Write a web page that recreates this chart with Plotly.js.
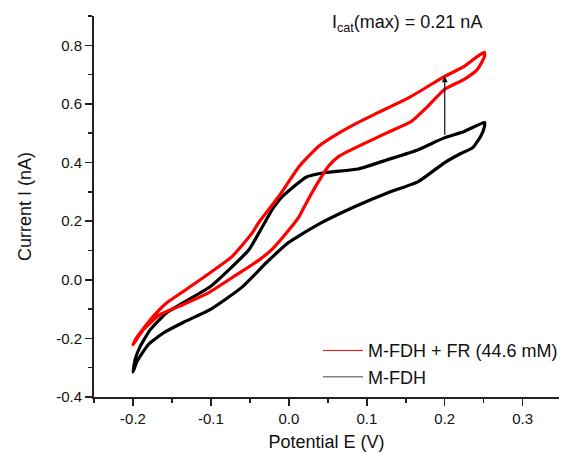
<!DOCTYPE html>
<html>
<head>
<meta charset="utf-8">
<script src="https://cdn.plot.ly/plotly-3.0.1.min.js"></script>
<style>html,body{margin:0;padding:0;background:#fff}#chart{width:563px;height:452px}</style>
</head>
<body>
<div id="chart"></div>
<script>
// M-FDH (black) cyclic voltammogram: forward (upper) then reverse (lower)
const blackE = [-0.200,-0.197,-0.191,-0.178,-0.157,-0.136,-0.101,-0.073,-0.051,-0.034,-0.020,-0.008,0.005,0.022,0.047,0.089,0.127,0.166,0.200,0.225,0.251,
                0.251,0.246,0.236,0.220,0.200,0.166,0.127,0.085,0.042,0.013,0.000,-0.029,-0.060,-0.100,-0.135,-0.160,-0.180,-0.195,-0.200];
const blackI = [-0.315,-0.270,-0.229,-0.171,-0.113,-0.079,-0.024,0.044,0.103,0.181,0.245,0.285,0.315,0.350,0.366,0.378,0.410,0.444,0.485,0.506,0.537,
                0.523,0.489,0.451,0.430,0.400,0.335,0.297,0.250,0.195,0.150,0.128,0.058,-0.025,-0.100,-0.145,-0.180,-0.220,-0.280,-0.315];
// M-FDH + FR 44.6 mM (red)
const redE = [-0.200,-0.196,-0.178,-0.157,-0.136,-0.101,-0.073,-0.047,-0.038,-0.013,0.013,0.038,0.064,0.089,0.115,0.157,0.200,0.225,0.242,0.251,
              0.251,0.242,0.225,0.200,0.178,0.157,0.127,0.089,0.064,0.050,0.038,0.025,0.013,0.000,-0.022,-0.038,-0.073,-0.101,-0.136,-0.166,-0.187,-0.200];
const redI = [-0.222,-0.200,-0.137,-0.079,-0.041,0.024,0.079,0.160,0.198,0.284,0.386,0.455,0.500,0.537,0.571,0.626,0.694,0.728,0.762,0.776,
              0.762,0.718,0.684,0.650,0.591,0.540,0.503,0.455,0.421,0.385,0.335,0.275,0.215,0.170,0.103,0.068,0.007,-0.041,-0.085,-0.120,-0.171,-0.222];
const seriesNames = ["M-FDH + FR (44.6 mM)", "M-FDH"];
const xTickVals = [-0.2, -0.1, 0.0, 0.1, 0.2, 0.3];
const xTickText = ["-0.2", "-0.1", "0.0", "0.1", "0.2", "0.3"];
const yTickVals = [-0.4, -0.2, 0.0, 0.2, 0.4, 0.6, 0.8];
const yTickText = ["-0.4", "-0.2", "0.0", "0.2", "0.4", "0.6", "0.8"];
const arrowE = 0.2, arrowFrom = 0.49, arrowTo = 0.694;
const noteText = "I<sub>cat</sub>(max) = 0.21 nA";

const font = "Liberation Sans, Arial, sans-serif";
const traces = [
  {x: blackE, y: blackI, mode: "lines", line: {color: "#000000", width: 3.2, shape: "spline", smoothing: 0.5}, showlegend: false, hoverinfo: "skip"},
  {x: redE, y: redI, mode: "lines", line: {color: "#ff0000", width: 3.2, shape: "spline", smoothing: 0.5}, showlegend: false, hoverinfo: "skip"},
  {x: [null], y: [null], mode: "lines", name: seriesNames[0], line: {color: "#ff0000", width: 1}},
  {x: [null], y: [null], mode: "lines", name: seriesNames[1], line: {color: "#444444", width: 1}}
];
const axisCommon = {
  showgrid: false, zeroline: false, showline: true, linecolor: "#222", linewidth: 2,
  ticks: "outside", ticklen: 7, tickwidth: 1.5, tickcolor: "#222",
  tickfont: {family: font, size: 15, color: "#111"}, mirror: false, tickmode: "array"
};
const layout = {
  width: 563, height: 452,
  margin: {l: 94, r: 0, t: 16, b: 55},
  paper_bgcolor: "#fff", plot_bgcolor: "#fff",
  font: {family: font, color: "#111"},
  xaxis: Object.assign({}, axisCommon, {
    range: [-0.25, 0.3466], tickvals: xTickVals, ticktext: xTickText,
    minor: {ticks: "outside", ticklen: 4, tickwidth: 1.5, tickcolor: "#222", dtick: 0.05, tick0: 0},
    title: {text: "Potential E (V)", font: {family: font, size: 18, color: "#111"}, standoff: 11}
  }),
  yaxis: Object.assign({}, axisCommon, {
    range: [-0.4, 0.9], tickvals: yTickVals, ticktext: yTickText,
    minor: {ticks: "outside", ticklen: 4, tickwidth: 1.5, tickcolor: "#222", dtick: 0.1, tick0: 0},
    title: {text: "Current I (nA)", font: {family: font, size: 18, color: "#111"}, standoff: 20}
  }),
  legend: {x: 0.482, y: 0.17, xanchor: "left", yanchor: "top", bgcolor: "rgba(0,0,0,0)",
           font: {family: font, size: 18, color: "#111"}, tracegroupgap: 0, itemwidth: 40},
  annotations: [
    {x: 0, y: 0, xref: "paper", yref: "paper", text: noteText, showarrow: false,
     xanchor: "center", yanchor: "middle", font: {family: font, size: 18, color: "#111"}},
    {x: arrowE, y: arrowTo, ax: arrowE, ay: arrowFrom, xref: "x", yref: "y", axref: "x", ayref: "y",
     text: "", showarrow: true, arrowhead: 2, arrowsize: 1, arrowwidth: 1.2, arrowcolor: "#111"}
  ]
};
// place the note (pixel position converted to paper coords)
layout.annotations[0].x = (410 - 94) / (563 - 94);
layout.annotations[0].y = (397 - 23) / (397 - 16);
Plotly.newPlot("chart", traces, layout, {displayModeBar: false, staticPlot: true});
</script>
</body>
</html>
